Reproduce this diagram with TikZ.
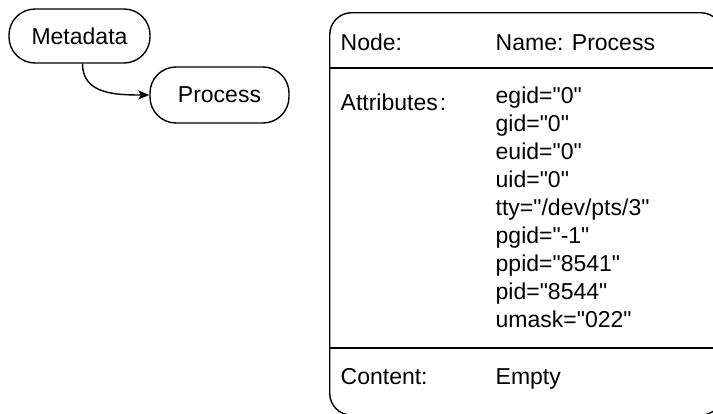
\documentclass[tikz,border=0pt]{standalone}
\usepackage{fontspec}
\setmainfont{Liberation Sans}[Ligatures=TeXOff]
\usetikzlibrary{arrows.meta}
\begin{document}
\begin{tikzpicture}[x=1pt,y=-1pt,line width=1.4pt,
  txt/.style={inner sep=0pt,anchor=base west,font=\fontsize{23pt}{27pt}\selectfont},
  pill/.style={draw,rounded corners=26pt,inner sep=0pt,font=\fontsize{23pt}{27pt}\selectfont},
  arr/.style={-{Stealth[length=11pt,width=9pt,inset=2.5pt]}}]
\useasboundingbox (0,0) rectangle (713,413);
\clip (0,0) rectangle (713,413);
\node[pill,minimum width=141pt,minimum height=54pt] (meta) at (79.5,36) {Metadata};
\node[pill,minimum width=139pt,minimum height=56pt] (proc) at (219.5,95) {Process};
\draw[arr] ([xshift=3pt]meta.south) .. controls +(0,30) and +(-35,0) .. (proc.west);
\node[draw,rounded corners=22pt,inner sep=0pt,minimum width=393pt,minimum height=402.5pt,anchor=north west] (box) at (329,12) {};
\coordinate (l1a) at (329,68);
\coordinate (l1b) at (722,68);
\coordinate (l2a) at (329,348);
\coordinate (l2b) at (722,348);
\draw (l1a) -- (l1b);
\draw (l2a) -- (l2b);
\node[txt] (nodelbl) at (340,50) {Node:};
\node[txt] (name) at (495,50) {Name: Process};
\node[txt] (attlbl) at (340,110) {Attributes\kern2pt:};
\foreach \t [count=\i from 0] in {egid="0",gid="0",euid="0",uid="0",tty="/dev/pts/3",pgid="-1",ppid="8541",pid="8544",umask="022"}
  \node[txt] (att\i) at (495,{103+28*\i}) {\t};
\node[txt] (contlbl) at (340,384) {Content:};
\node[txt] (empty) at (495,384) {Empty};
\end{tikzpicture}
\end{document}
